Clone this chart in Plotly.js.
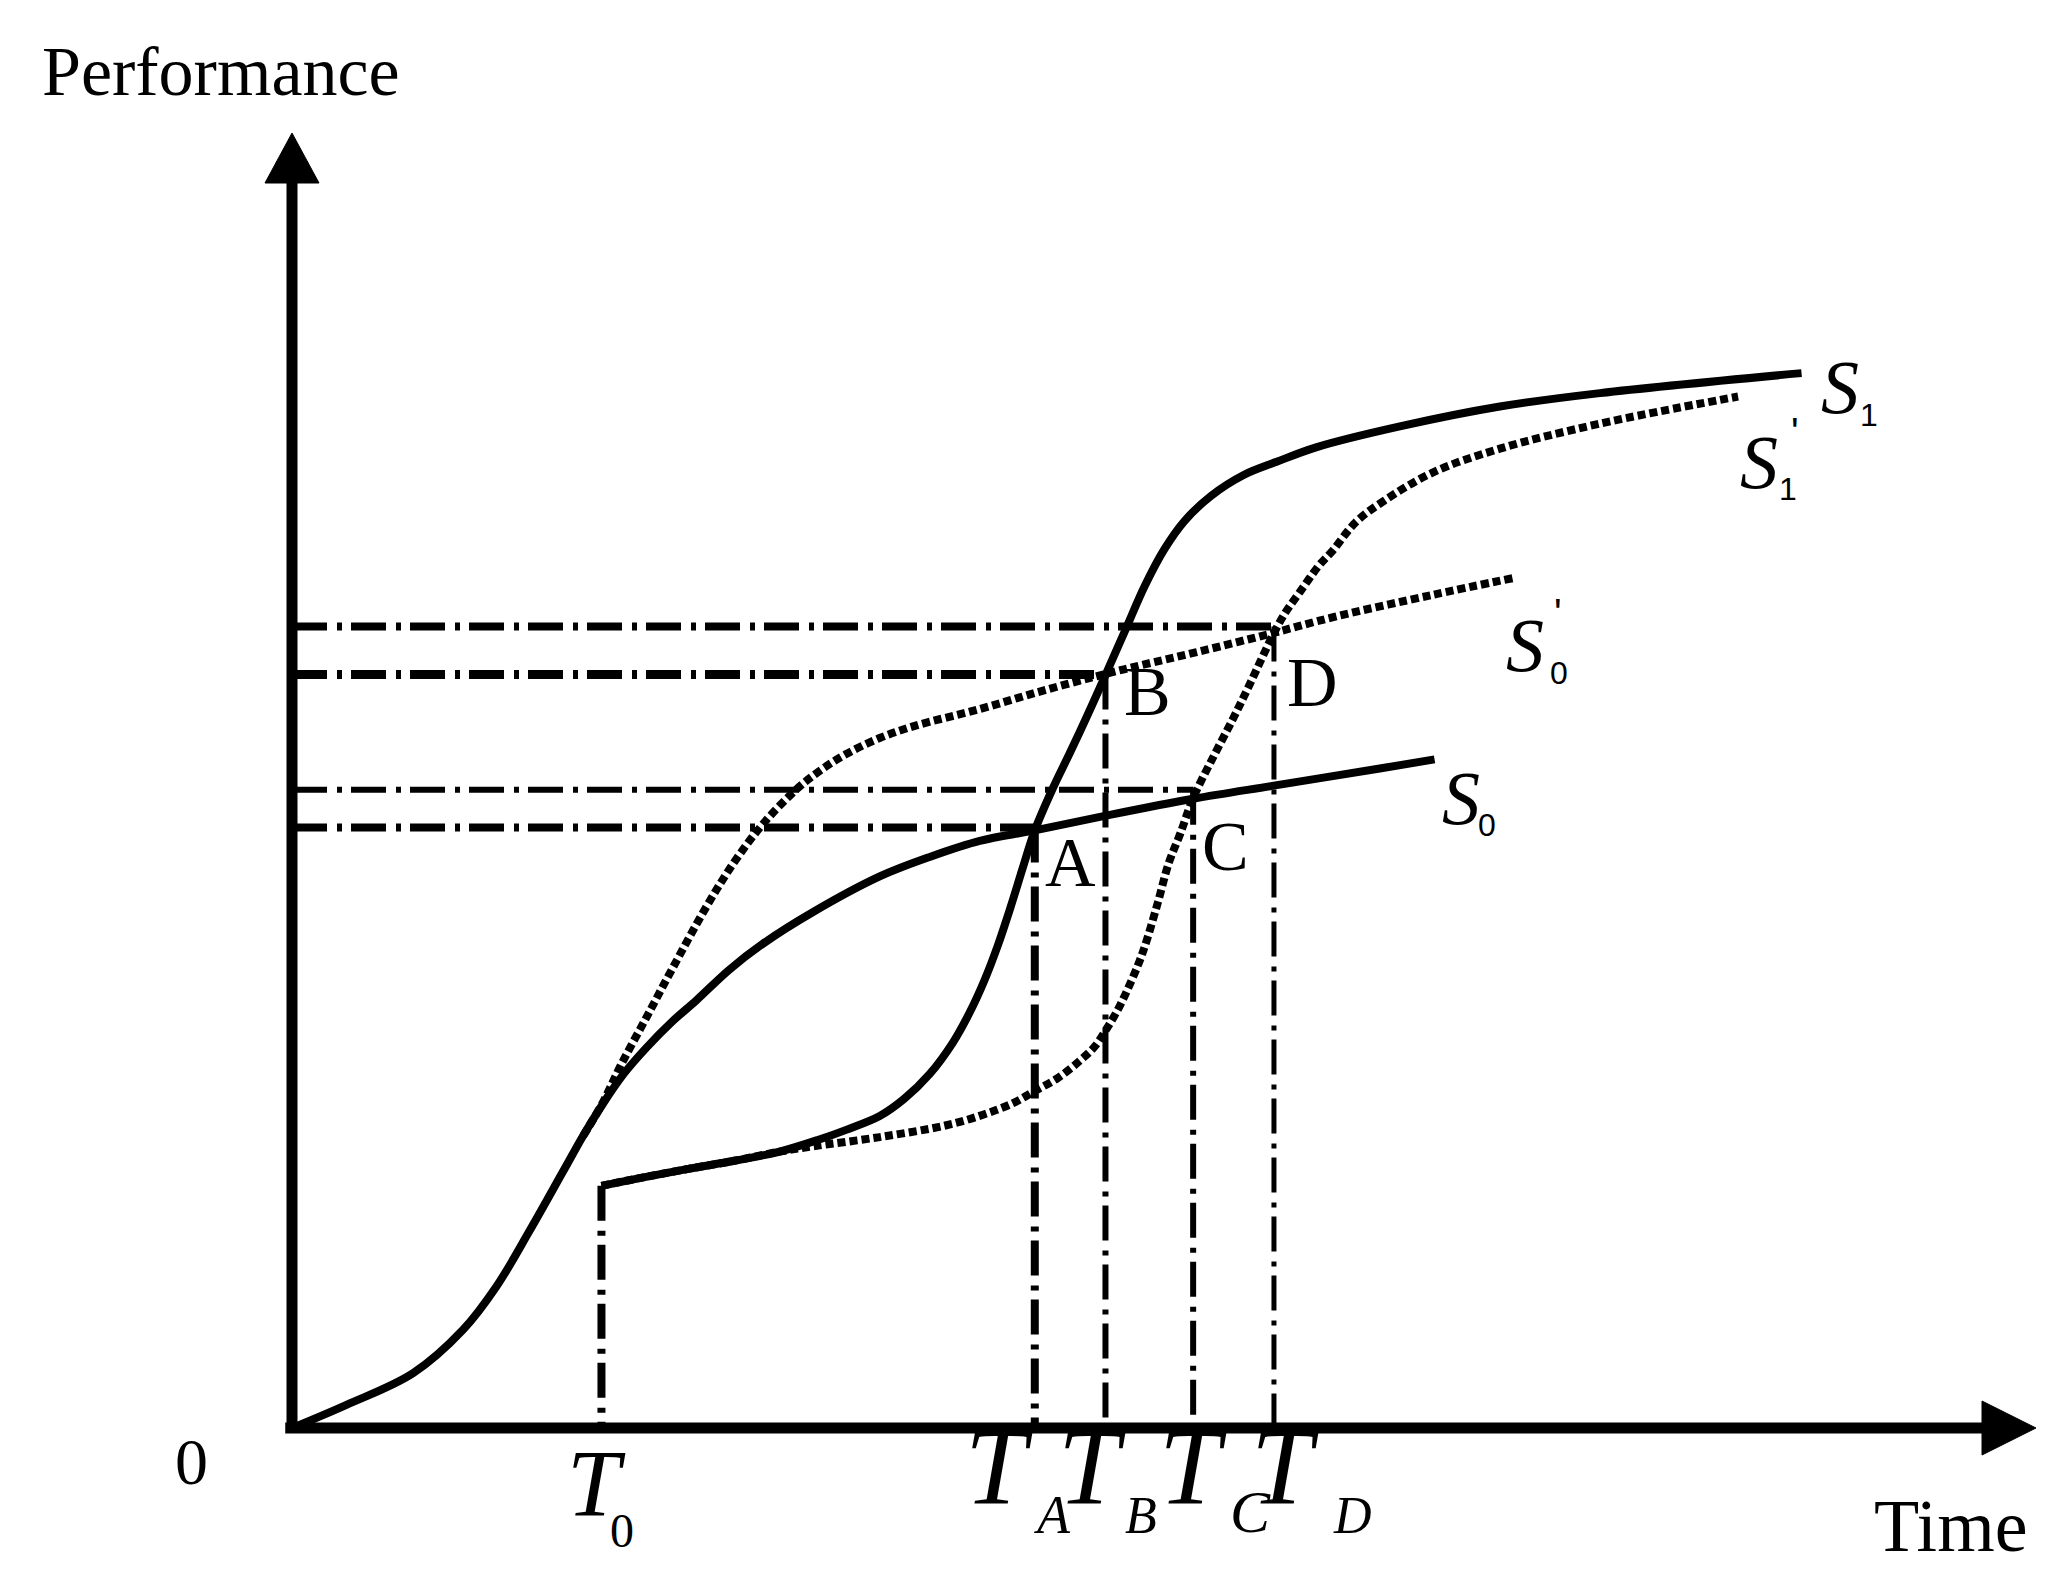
<!DOCTYPE html>
<html>
<head>
<meta charset="utf-8">
<script src="https://cdn.plot.ly/plotly-3.0.1.min.js"></script>
<style>html,body{margin:0;padding:0;background:#fff;}#chart{width:2064px;height:1584px;}</style>
</head>
<body>
<div id="chart"></div>
<script>
// ---- data (Time, Performance) in arbitrary units ----
const s0Time  = [0, 4.14, 9.2, 12.99, 15.53, 18.06, 20.6, 22.12, 23.6, 25.2, 26.93, 28.8, 30.73, 33.2, 35.79, 39.59, 44.65, 48.5, 52.25, 56.43, 61.75, 68.46, 74.59, 82.64, 86.8];
const s0Perf  = [0, 1.76, 4.17, 7.46, 10.75, 15.0, 19.5, 22.2, 24.6, 26.9, 28.9, 30.8, 32.5, 34.8, 36.8, 39.2, 41.9, 43.4, 44.6, 45.4, 46.5, 47.8, 48.8, 50.1, 50.8];

const s0pTime = [22.12, 23.6, 25.0, 26.93, 28.95, 31.48, 33.6, 35.79, 38.3, 40.2, 42.1, 44.6, 47.18, 52.25, 57.0, 61.85, 64.5, 68.96, 74.55, 79.1, 86.69, 92.77];
const s0pPerf = [22.2, 24.7, 27.6, 31.2, 35.0, 39.6, 43.0, 45.9, 48.5, 50.0, 51.2, 52.4, 53.3, 54.62, 56.0, 57.3, 57.95, 59.0, 60.4, 61.6, 63.3, 64.57];

const s1Time  = [23.51, 26.5, 30.2, 33.6, 37.05, 40.0, 42.1, 44.65, 46.5, 48.45, 50.22, 51.5, 52.6, 53.6, 54.6, 55.5, 56.43, 57.8, 59.1, 60.5, 61.8, 63.3, 64.8, 66.3, 67.8, 69.8, 72.3, 74.8, 77.8, 84.16, 91.76, 99.36, 114.68];
const s1Perf  = [18.4, 19.0, 19.7, 20.3, 21.0, 21.9, 22.65, 23.7, 25.0, 26.9, 29.3, 31.6, 34.0, 36.6, 39.6, 42.5, 45.4, 48.6, 51.3, 54.3, 57.2, 60.6, 64.0, 66.8, 68.9, 70.8, 72.4, 73.4, 74.5, 76.09, 77.6, 78.62, 80.14];

const s1pTime = [23.51, 26.5, 30.2, 33.6, 37.05, 39.6, 44.65, 49.72, 52.5, 54.78, 56.43, 58.2, 59.85, 61.0, 61.87, 62.8, 63.65, 64.4, 64.92, 65.8, 66.6, 67.5, 68.46, 70.0, 71.5, 72.76, 74.55, 75.5, 76.56, 78.0, 79.1, 80.8, 82.9, 86.69, 91.76, 99.36, 109.86];
const s1pPerf = [18.4, 19.0, 19.7, 20.3, 21.0, 21.4, 22.1, 23.0, 23.8, 24.68, 25.6, 26.6, 27.9, 29.0, 30.3, 31.9, 33.7, 35.5, 37.0, 40.0, 42.9, 45.2, 47.86, 51.0, 53.9, 56.5, 60.3, 62.0, 63.5, 65.5, 66.7, 68.8, 70.4, 72.6, 74.4, 76.3, 78.36];

// reference times T_A..T_D and the performance levels of A..D
const refNames  = ['A', 'B', 'C', 'D'];
const refTimes  = [56.43, 61.8, 68.46, 74.6];
const refLevels = [45.62, 57.25, 48.48, 60.89];
const t0Time = 23.51;
const t0Level = 18.4;

// ---- styles ----
const hWidths = [8, 9, 6, 8];
const vWidths = [8, 6, 6, 5];
const dashDot = '35px,10px,5px,9px';
const smooth = 1.0;

const traces = [];
refTimes.forEach((t, i) => {
  traces.push({x: [0, t], y: [refLevels[i], refLevels[i]], mode: 'lines',
    line: {color: '#000', width: hWidths[i], dash: dashDot}, hoverinfo: 'skip'});
});
refTimes.forEach((t, i) => {
  traces.push({x: [t, t], y: [refLevels[i], 0], mode: 'lines',
    line: {color: '#000', width: vWidths[i], dash: dashDot}, hoverinfo: 'skip'});
});
traces.push({x: [t0Time, t0Time], y: [t0Level, 0], mode: 'lines',
  line: {color: '#000', width: 8, dash: dashDot}, hoverinfo: 'skip'});

traces.push({x: s0pTime, y: s0pPerf, mode: 'lines', line: {color: '#000', width: 8, dash: '8px,4px', shape: 'spline', smoothing: smooth}});
traces.push({x: s1pTime, y: s1pPerf, mode: 'lines', line: {color: '#000', width: 8, dash: '8px,4px', shape: 'spline', smoothing: smooth}});
traces.push({x: s0Time, y: s0Perf, mode: 'lines', line: {color: '#000', width: 8, shape: 'spline', smoothing: smooth}});
traces.push({x: s1Time, y: s1Perf, mode: 'lines', line: {color: '#000', width: 8, shape: 'spline', smoothing: smooth}});

// ---- layout helpers ----
const L = 292, R = 1982, T = 183, B = 1428;
function P(fx, fy) { return {x: (fx - L) / (R - L), y: (B - fy) / (B - T)}; }
const serif = 'Liberation Serif, Times New Roman, serif';
const sans = 'Liberation Sans, Arial, sans-serif';
const ann = [];
function label(text, fx, fy, size, fam) {
  const p = P(fx, fy);
  ann.push({xref: 'paper', yref: 'paper', x: p.x, y: p.y, text: text, showarrow: false,
    xanchor: 'center', yanchor: 'middle', font: {family: fam || serif, size: size, color: '#000'}});
}
label('Performance', 221, 71, 70);
label('0', 191, 1461, 66);
label('Time', 1951, 1526, 74);
label('<i>T</i>', 596, 1484, 95);
label('0', 622, 1530, 48);
const tCenters = [999, 1092, 1193, 1285];
const subCenters = [[1052, 1515, 54], [1141, 1515, 52], [1250, 1512, 60], [1352, 1515, 52]];
refNames.forEach((n, i) => {
  label('<i>T</i>', tCenters[i], 1467, 110);
  label('<i>' + n + '</i>', subCenters[i][0], subCenters[i][1], subCenters[i][2]);
});
const ptPos = [[1070, 862], [1147, 691], [1225, 846], [1312, 682]];
refNames.forEach((n, i) => label(n, ptPos[i][0], ptPos[i][1], 70));
label('<i>S</i>', 1840, 387, 76); label('1', 1869, 415, 32, sans);
label('<i>S</i>', 1759, 462, 76); label("'", 1795, 432, 40, sans); label('1', 1788, 489, 32, sans);
label('<i>S</i>', 1525, 645, 76); label("'", 1558, 613, 40, sans); label('0', 1559, 673, 32, sans);
label('<i>S</i>', 1461, 798, 76); label('0', 1487, 825, 32, sans);

const shapes = [
  {type: 'line', xref: 'paper', yref: 'paper', x0: -0.004, x1: 1, y0: 0, y1: 0, line: {color: '#000', width: 11}, layer: 'above'},
  {type: 'line', xref: 'paper', yref: 'paper', x0: 0, x1: 0, y0: -0.004, y1: 1, line: {color: '#000', width: 11}, layer: 'above'},
  {type: 'path', xref: 'paper', yref: 'paper', xsizemode: 'pixel', ysizemode: 'pixel', xanchor: 1, yanchor: 0,
    path: 'M0,-27 L54,0 L0,27 Z', fillcolor: '#000', line: {color: '#000', width: 1}, layer: 'above'},
  {type: 'path', xref: 'paper', yref: 'paper', xsizemode: 'pixel', ysizemode: 'pixel', xanchor: 0, yanchor: 1,
    path: 'M-27,0 L0,50 L27,0 Z', fillcolor: '#000', line: {color: '#000', width: 1}, layer: 'above'}
];

const layout = {
  width: 2064, height: 1584,
  margin: {l: L, r: 2064 - R, t: T, b: 1584 - B, pad: 0},
  paper_bgcolor: '#fff', plot_bgcolor: '#fff',
  showlegend: false,
  xaxis: {range: [0, (R - L) / 13.163], visible: false, fixedrange: true},
  yaxis: {range: [0, (B - T) / 13.163], visible: false, fixedrange: true},
  shapes: shapes,
  annotations: ann
};
Plotly.newPlot('chart', traces, layout, {staticPlot: true, displayModeBar: false});
</script>
</body>
</html>
